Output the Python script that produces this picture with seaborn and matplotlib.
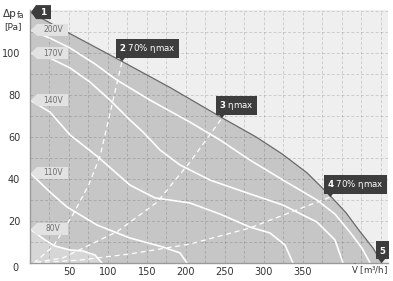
import numpy as np
import pandas as pd
import matplotlib
matplotlib.use("Agg")
import matplotlib.pyplot as plt
import matplotlib.transforms as mtransforms
from matplotlib.patches import Polygon
import seaborn as sns

# ---------------- data ----------------
max_x = [0, 50, 118, 180, 247, 290, 323, 355, 385, 405, 423, 440, 451]
max_y = [119.5, 109.5, 96, 83.5, 69, 60, 52, 43, 32, 24, 15, 7, 0]

v200_x = [0, 25.6, 51.3, 83.3, 111.5, 153.8, 205.1, 243.6, 282.1, 324.4, 367.9, 391, 410, 425.6, 436]
v200_y = [111, 107.1, 102.4, 94.8, 87.1, 77.6, 67.1, 58.6, 49.0, 39.5, 30.0, 23.3, 14.8, 7.1, 0]

v170_x = [0, 25.6, 51.3, 76.9, 102.6, 128.2, 144.9, 166.7, 192.3, 230.8, 282.1, 324.4, 367.9, 391, 401.3]
v170_y = [100, 97.6, 92.9, 86.2, 77.6, 68.1, 62.4, 53.8, 46.7, 39.5, 32.9, 27.6, 19.5, 11, 0]

v140_x = [0, 25.6, 51.3, 87.2, 128.2, 160.3, 205.1, 243.6, 282.1, 307.7, 326.9, 337.2]
v140_y = [77.6, 71.9, 61, 50.5, 37.1, 31, 28.6, 23.3, 17.1, 14.3, 8.6, 0]

v110_x = [0, 25.6, 47.4, 85.9, 128.2, 170.5, 192.3, 201.3]
v110_y = [42.9, 33.8, 26.7, 18.1, 11.9, 7.6, 4.8, 0]

v80_x = [0, 19.2, 32, 51.3, 68, 83.3, 92.3]
v80_y = [16.2, 11, 8.1, 6.2, 5.7, 3.8, 0]

speed_names = ["200V", "170V", "140V", "110V", "80V"]

d2_x = [5, 30, 55, 75, 90, 103, 118]
d2_y = [0, 8, 23, 37, 51, 72, 96]
d3_x = [8, 42, 112, 163, 205, 246]
d3_y = [0.3, 2.4, 15, 29, 48, 69]
d4_x = [8, 64, 128, 205, 282, 385]
d4_y = [0, 1.4, 4.3, 9, 16.7, 31.4]

point_ids = ["1", "2", "3", "4", "5"]
point_text = ["", "70% ηmax", "ηmax", "70% ηmax", ""]

xtick_vals = [50, 100, 150, 200, 250, 300, 350]
ytick_vals = [20, 40, 60, 80, 100]

# ---------------- figure ----------------
sns.set_style("white")
plt.rcParams["font.family"] = ["DejaVu Sans"]
plt.rcParams["mathtext.fontset"] = "dejavusans"

W, H = 393, 281
fig = plt.figure(figsize=(W / 100, H / 100), dpi=100)
ax = fig.add_axes([30 / W, 18 / H, 358 / W, 253 / H])
ax.set_xlim(0, 459)
ax.set_ylim(0, 120.5)
ax.set_facecolor("#efefef")

# fills
ax.fill_between(max_x, max_y, 0, color="#c6c6c6", lw=0, zorder=1)
ax.fill_between(v80_x, v80_y, 0, color="#d6d6d6", lw=0, zorder=1.1)

# grid
ax.set_xticks(np.arange(0, 460, 25))
ax.set_yticks(np.arange(0, 121, 10))
ax.set_axisbelow(False)
ax.grid(True, color="black", alpha=0.14, lw=0.7, ls=(0, (3, 2)))
for gl in ax.get_xgridlines() + ax.get_ygridlines():
    gl.set_zorder(1.5)
ax.set_xticklabels([str(int(v)) if int(v) in xtick_vals else "" for v in ax.get_xticks()])
ax.set_yticklabels([str(int(v)) if int(v) in ytick_vals else "" for v in ax.get_yticks()])
ax.tick_params(length=0, labelsize=7, colors="#333333", pad=3)
ax.tick_params(axis="y", pad=7)

for s in ["top", "right"]:
    ax.spines[s].set_visible(False)
for s in ["left", "bottom"]:
    ax.spines[s].set_color("#9a9a9a")
    ax.spines[s].set_linewidth(1.0)
    ax.spines[s].set_zorder(4)

# max curve
sns.lineplot(x=max_x, y=max_y, ax=ax, color="#6a6a6a", lw=0.9, estimator=None, zorder=3)

# speed curves
speed_x = [v200_x, v170_x, v140_x, v110_x, v80_x]
speed_y = [v200_y, v170_y, v140_y, v110_y, v80_y]
for xs, ys in zip(speed_x, speed_y):
    sns.lineplot(x=xs, y=ys, ax=ax, color="white", lw=1.2, estimator=None, zorder=3)

# system (efficiency) dashed curves
for xs, ys in zip([d2_x, d3_x, d4_x], [d2_y, d3_y, d4_y]):
    sns.lineplot(x=xs, y=ys, ax=ax, color="white", lw=0.9, estimator=None,
                 linestyle=(0, (4, 3)), zorder=3)


def px_trans(x, y):
    """transform: pixel offsets (1/100 inch) around data point (x, y)"""
    return (mtransforms.Affine2D().scale(0.01) + fig.dpi_scale_trans
            + mtransforms.ScaledTranslation(x, y, ax.transData))


# voltage tags
for name, ys in zip(speed_names, speed_y):
    tr = px_trans(0, ys[0])
    ax.add_patch(Polygon([(1, 0), (7, 6), (38, 6), (38, -6), (7, -6)], closed=True,
                         fc="#e2e2e2", ec="none", transform=tr, zorder=6, clip_on=False))
    ax.text(23, 0, name, transform=tr, ha="center", va="center", fontsize=5.5,
            color="#6e6e6e", zorder=7, clip_on=False)

# operating points
pts = [(max_x[0], max_y[0]), (d2_x[-1], d2_y[-1]), (d3_x[-1], d3_y[-1]),
       (d4_x[-1], d4_y[-1]), (max_x[-1], max_y[-1])]
dark = "#3d3d3d"
for i, (pid, txt, (px, py)) in enumerate(zip(point_ids, point_text, pts)):
    tr = px_trans(px, py)
    if i == 0:
        ax.add_patch(Polygon([(1, 0), (6, 7), (21, 7), (21, -7), (6, -7)], closed=True,
                             fc=dark, ec="none", transform=tr, zorder=6, clip_on=False))
        ax.text(13.5, 0, pid, transform=tr, ha="center", va="center", fontsize=6.5,
                color="white", fontweight="bold", zorder=7, clip_on=False)
    else:
        ax.add_patch(Polygon([(0, 0), (-5, 6), (5, 6)], closed=True, fc=dark, ec="none",
                             transform=tr, zorder=6, clip_on=False))
        label = r"$\mathbf{" + pid + "}$" + (" " + txt if txt else "")
        ax.text(-3, 13, label, transform=tr, ha="left", va="center", fontsize=6.2,
                color="white", zorder=7, clip_on=False,
                bbox=dict(boxstyle="square,pad=0.35", fc=dark, ec="none"))

# axis titles
fig.text(3 / W, 1 - 14 / H, "Δp", fontsize=7.5, color="#333333", va="center", ha="left")
fig.text(17 / W, 1 - 16 / H, "fa", fontsize=5.5, color="#333333", va="center", ha="left")
fig.text(4 / W, 1 - 27 / H, "[Pa]", fontsize=6.5, color="#333333", va="center", ha="left")
fig.text(15 / W, 1 - 268 / H, "0", fontsize=7, color="#333333", va="center", ha="center")
fig.text(388 / W, 1 - 270 / H, r"$\dot{\mathrm{V}}$ [m³/h]", fontsize=6.2,
         color="#333333", va="center", ha="right")

ax.set_xlabel("")
ax.set_ylabel("")
fig.savefig("out.png", dpi=100)
